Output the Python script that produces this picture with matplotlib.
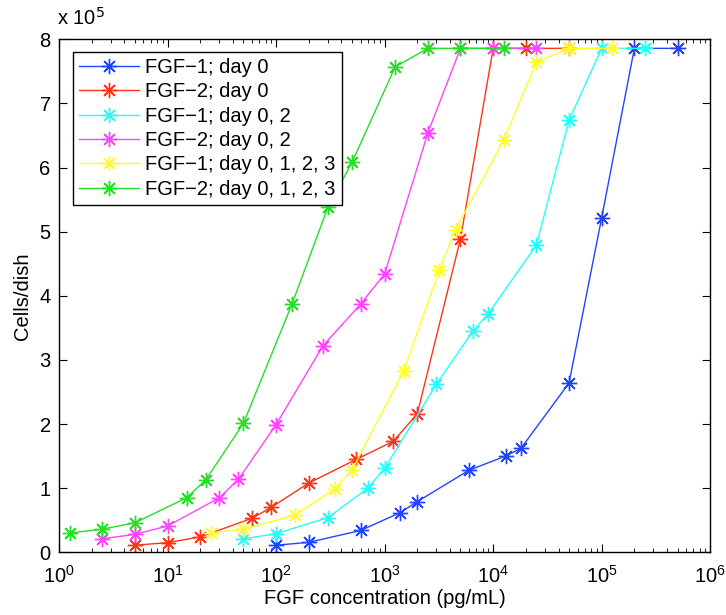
import matplotlib
matplotlib.use('Agg')
import matplotlib.pyplot as plt

plt.rcParams['font.family'] = ['Liberation Sans', 'DejaVu Sans']

# FGF concentration (pg/mL) and cell counts (x 1e5 cells/dish)
fgf1_d0_x = [100, 200, 600, 1400, 2000, 6000, 13000, 18000, 50000, 100000, 200000, 500000]
fgf1_d0_y = [0.11, 0.155, 0.34, 0.62, 0.79, 1.28, 1.50, 1.62, 2.64, 5.22, 7.86, 7.86]

fgf2_d0_x = [5, 10, 20, 60, 90, 200, 550, 1200, 2000, 5000, 10000, 20000, 50000]
fgf2_d0_y = [0.11, 0.15, 0.24, 0.53, 0.70, 1.08, 1.45, 1.73, 2.16, 4.89, 7.86, 7.86, 7.86]

fgf1_d02_x = [50, 100, 300, 700, 1000, 3000, 6500, 9000, 25000, 50000, 100000, 250000]
fgf1_d02_y = [0.21, 0.29, 0.54, 1.00, 1.31, 2.62, 3.45, 3.72, 4.79, 6.74, 7.86, 7.86]

fgf2_d02_x = [2.5, 5, 10, 30, 45, 100, 270, 600, 1000, 2500, 5000, 10000, 25000]
fgf2_d02_y = [0.21, 0.28, 0.41, 0.85, 1.14, 1.99, 3.22, 3.87, 4.34, 6.54, 7.86, 7.86, 7.86]

fgf1_d0123_x = [25, 50, 150, 350, 500, 1500, 3200, 4500, 12500, 25000, 50000, 125000]
fgf1_d0123_y = [0.30, 0.36, 0.58, 0.99, 1.28, 2.83, 4.41, 5.03, 6.43, 7.64, 7.86, 7.86]

fgf2_d0123_x = [1.25, 2.5, 5, 15, 22.5, 50, 140, 300, 500, 1250, 2500, 5000, 12500]
fgf2_d0123_y = [0.30, 0.36, 0.46, 0.85, 1.13, 2.01, 3.87, 5.38, 6.08, 7.57, 7.86, 7.86, 7.86]

labels = ['FGF\u22121; day 0', 'FGF\u22122; day 0', 'FGF\u22121; day 0, 2',
          'FGF\u22122; day 0, 2', 'FGF\u22121; day 0, 1, 2, 3', 'FGF\u22122; day 0, 1, 2, 3']
cores = ['#2244ff', '#ff3318', '#22ffff', '#ff44ff', '#ffff22', '#22e022']

series = [(fgf1_d0_x, fgf1_d0_y), (fgf2_d0_x, fgf2_d0_y), (fgf1_d02_x, fgf1_d02_y),
          (fgf2_d02_x, fgf2_d02_y), (fgf1_d0123_x, fgf1_d0123_y), (fgf2_d0123_x, fgf2_d0123_y)]

FS = 14.5
ASTERISCO = (8, 2, 0)

fig = plt.figure(figsize=(7.26, 6.15), dpi=100)
ax = fig.add_axes([0.0813, 0.102, 0.897, 0.834])

for (x, y), lab, cor in zip(series, labels, cores):
    ax.plot(x, y, '-', marker=ASTERISCO, color=cor, label=lab, linewidth=1,
            markersize=11, markeredgewidth=1)

ax.set_xscale('log')
ax.set_xlim(1, 1e6)
ax.set_ylim(0, 8)
ax.set_yticks(range(0, 9))

ax.tick_params(which='both', direction='in', top=True, right=True, labelsize=FS)
ax.tick_params(which='major', length=6, width=0.8)
ax.tick_params(which='minor', length=3, width=0.6)
ax.tick_params(axis='x', pad=9)
ax.tick_params(axis='y', pad=6)
for s in ax.spines.values():
    s.set_linewidth(1)

ax.set_xlabel('FGF concentration (pg/mL)', fontsize=FS, labelpad=2)
ax.set_ylabel('Cells/dish', fontsize=FS, labelpad=5)
ax.text(-0.003, 1.02, 'x 10$^5$', transform=ax.transAxes, fontsize=FS, ha='left', va='bottom')

leg = ax.legend(loc='upper left', fontsize=FS, fancybox=False, framealpha=1,
                edgecolor='k', bbox_to_anchor=(0.021, 0.976), borderaxespad=0,
                handlelength=3.0, handletextpad=0.3, labelspacing=0.27, borderpad=0.3)
leg.get_frame().set_linewidth(1)

fig.savefig('out.png', dpi=100)
